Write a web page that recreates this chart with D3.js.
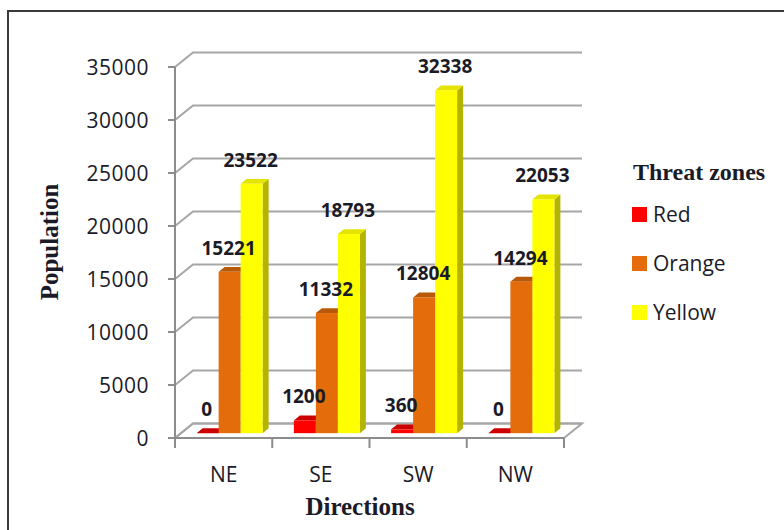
<!DOCTYPE html>
<html>
<head>
<meta charset="utf-8">
<script src="https://cdn.jsdelivr.net/npm/d3@7"></script>
<style>
  html, body { margin: 0; padding: 0; background: #fff; }
  svg { display: block; }
</style>
</head>
<body>
<svg id="chart" width="784" height="530"></svg>
<script>
// Population by direction and threat zone
const directions = ["NE", "SE", "SW", "NW"];
const zones = ["Red", "Orange", "Yellow"];
const redValues = [0, 1200, 360, 0];
const orangeValues = [15221, 11332, 12804, 14294];
const yellowValues = [23522, 18793, 32338, 22053];
const yTicks = [0, 5000, 10000, 15000, 20000, 25000, 30000, 35000];

const seriesValues = { Red: redValues, Orange: orangeValues, Yellow: yellowValues };
const faceColors = {
  Red:    { front: "#ff0000", side: "#b00000", top: "#cc0000" },
  Orange: { front: "#e46c0a", side: "#a04c07", top: "#b8590a" },
  Yellow: { front: "#ffff00", side: "#b3b300", top: "#e4e400" }
};

const svg = d3.select("#chart");
const textColor = "#1b1b28";
const sansFont = "'Open Sans', 'Noto Sans', sans-serif";
const serifFont = "'Liberation Serif', 'DejaVu Serif', serif";

// outer frame
svg.append("rect")
  .attr("x", 8).attr("y", 11).attr("width", 800).attr("height", 540)
  .attr("fill", "none").attr("stroke", "#3a3a3a").attr("stroke-width", 2);

// front-plane scales
const x = d3.scaleBand().domain(directions).range([175, 564]);
const xs = d3.scaleBand().domain(zones).range([0, x.bandwidth()]).paddingInner(0).paddingOuter(0.71);
const y = d3.scaleLinear().domain([0, 35000]).range([438, 67]);

// depth projection: full depth of the box, bars sit in the middle third
const depth = { dx: 18, dy: -14.5 };
const barFront = { dx: depth.dx / 3, dy: depth.dy / 3 };
const barDepth = { dx: depth.dx / 3, dy: depth.dy / 3 };

const gridColor = "#a6a6a6";
const [x0, x1] = x.range();

// floor
svg.append("polygon")
  .attr("points", [
    [x0, y(0)], [x1, y(0)], [x1 + depth.dx, y(0) + depth.dy], [x0 + depth.dx, y(0) + depth.dy]
  ].map(p => p.join(",")).join(" "))
  .attr("fill", "#fff").attr("stroke", gridColor).attr("stroke-width", 2);

// back-wall gridlines with their left-wall diagonals
const grid = svg.append("g").attr("fill", "none").attr("stroke", gridColor).attr("stroke-width", 2);
yTicks.forEach(v => {
  grid.append("polyline")
    .attr("points", [
      [x0, y(v)], [x0 + depth.dx, y(v) + depth.dy], [x1 + depth.dx, y(v) + depth.dy]
    ].map(p => p.join(",")).join(" "));
});

// value axis
const axisColor = "#8c8c8c";
svg.append("line")
  .attr("x1", x0).attr("x2", x0).attr("y1", y(0)).attr("y2", y(35000))
  .attr("stroke", axisColor).attr("stroke-width", 2);
svg.append("g").selectAll("line").data(yTicks).join("line")
  .attr("x1", x0 - 7).attr("x2", x0).attr("y1", d => y(d)).attr("y2", d => y(d))
  .attr("stroke", axisColor).attr("stroke-width", 2);
svg.append("g").selectAll("text").data(yTicks).join("text")
  .attr("x", 149).attr("y", d => y(d) + 8)
  .attr("text-anchor", "end")
  .attr("font-family", sansFont).attr("font-size", 21).attr("letter-spacing", 0.5)
  .attr("fill", textColor)
  .text(d => d);

// category axis
svg.append("line")
  .attr("x1", x0).attr("x2", x1).attr("y1", y(0)).attr("y2", y(0))
  .attr("stroke", axisColor).attr("stroke-width", 2);
const boundaries = directions.map(d => x(d)).concat([x1]);
svg.append("g").selectAll("line").data(boundaries).join("line")
  .attr("x1", d => d).attr("x2", d => d).attr("y1", y(0)).attr("y2", y(0) + 10)
  .attr("stroke", axisColor).attr("stroke-width", 2);
svg.append("g").selectAll("text").data(directions).join("text")
  .attr("x", d => x(d) + x.bandwidth() / 2).attr("y", 482)
  .attr("text-anchor", "middle")
  .attr("font-family", sansFont).attr("font-size", 21)
  .attr("fill", textColor)
  .text(d => d);

// bars
const bars = [];
directions.forEach((dir, i) => {
  zones.forEach(z => {
    bars.push({ dir, zone: z, value: seriesValues[z][i] });
  });
});

const barG = svg.append("g");
const w = xs.bandwidth();
bars.forEach(b => {
  const left = x(b.dir) + xs(b.zone) + barFront.dx;
  const bottom = y(0) + barFront.dy;
  const top = y(b.value) + barFront.dy;
  const c = faceColors[b.zone];
  const g = barG.append("g");
  // right side face
  g.append("polygon")
    .attr("points", [
      [left + w, bottom], [left + w, top], [left + w + barDepth.dx, top + barDepth.dy], [left + w + barDepth.dx, bottom + barDepth.dy]
    ].map(p => p.join(",")).join(" "))
    .attr("fill", c.side);
  // top face
  g.append("polygon")
    .attr("points", [
      [left, top], [left + w, top], [left + w + barDepth.dx, top + barDepth.dy], [left + barDepth.dx, top + barDepth.dy]
    ].map(p => p.join(",")).join(" "))
    .attr("fill", c.top);
  // front face
  g.append("rect")
    .attr("x", left).attr("y", top).attr("width", w).attr("height", bottom - top)
    .attr("fill", c.front);
  b.labelX = left + w / 2 - 1;
  b.labelY = top - 17;
});

// data labels
svg.append("g").selectAll("text").data(bars).join("text")
  .attr("x", d => d.labelX).attr("y", d => d.labelY)
  .attr("text-anchor", "middle")
  .attr("font-family", sansFont).attr("font-size", 19).attr("font-weight", "bold")
  .attr("fill", textColor)
  .text(d => d.value);

// axis titles
svg.append("text")
  .attr("transform", "translate(58,242) rotate(-90)")
  .attr("text-anchor", "middle")
  .attr("font-family", serifFont).attr("font-size", 25).attr("font-weight", "bold")
  .attr("fill", textColor)
  .text("Population");
svg.append("text")
  .attr("x", 360).attr("y", 515)
  .attr("text-anchor", "middle")
  .attr("font-family", serifFont).attr("font-size", 25).attr("font-weight", "bold")
  .attr("fill", textColor)
  .text("Directions");

// legend
const legend = svg.append("g");
legend.append("text")
  .attr("x", 633).attr("y", 180)
  .attr("font-family", serifFont).attr("font-size", 24).attr("font-weight", "bold")
  .attr("fill", textColor)
  .text("Threat zones");
const legendItems = legend.selectAll("g.item").data(zones).join("g")
  .attr("class", "item")
  .attr("transform", (d, i) => `translate(632,${207 + i * 49})`);
legendItems.append("rect")
  .attr("width", 15).attr("height", 15)
  .attr("fill", d => faceColors[d].front);
legendItems.append("text")
  .attr("x", 21).attr("y", 15)
  .attr("font-family", sansFont).attr("font-size", 21)
  .attr("fill", textColor)
  .text(d => d);
</script>
</body>
</html>
